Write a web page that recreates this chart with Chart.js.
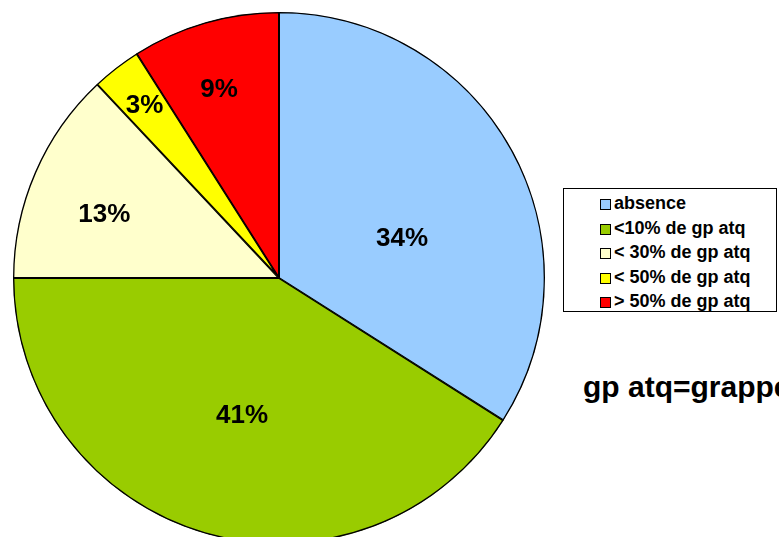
<!DOCTYPE html>
<html>
<head>
<meta charset="utf-8">
<script src="https://cdn.jsdelivr.net/npm/chart.js@4.4.0/dist/chart.umd.min.js"></script>
<style>
  html, body { margin: 0; padding: 0; background: #fff; overflow: hidden; width: 779px; height: 537px; }
  body { position: relative; font-family: "Liberation Sans", Arial, sans-serif; }
  #pieBox { position: absolute; left: 0; top: 0; width: 558px; height: 556px; }
  #legend {
    position: absolute; left: 563px; top: 188px; width: 214px; height: 124px;
    border: 1px solid #000; box-sizing: border-box; background: #fff;
  }
  #legend .item {
    position: absolute; left: 36px; height: 20px; line-height: 20px;
    font-weight: bold; font-size: 18px; white-space: nowrap; color: #000;
  }
  #legend .sw {
    display: inline-block; width: 9px; height: 9px; border: 1px solid #000;
    margin-right: 3px; vertical-align: -1px;
  }
  #note {
    position: absolute; left: 583px; top: 372px; font-weight: bold; font-size: 30px;
    line-height: 30px; white-space: nowrap; color: #000;
  }
</style>
</head>
<body>
<div id="pieBox"><canvas id="pie"></canvas></div>
<div id="legend"></div>
<div id="note">gp atq=grappes atteintes</div>
<script>
// categories and values (percent)
const labels = ["absence", "<10% de gp atq", "< 30% de gp atq", "< 50% de gp atq", "> 50% de gp atq"];
const values = [34, 41, 13, 3, 9];
const colors = ["#99CCFF", "#99CC00", "#FFFFCC", "#FFFF00", "#FF0000"];
// label placement: fraction of radius, and turn (degrees) away from the slice middle
const labelRad = [0.487, 0.533, 0.699, 0.825, 0.745];
const labelTurn = [10.6, -1.1, -3.3, 0, -1.4];

// draws the % labels on the slices
const pctLabels = {
  id: "pctLabels",
  afterDatasetsDraw(chart) {
    const ctx = chart.ctx;
    const meta = chart.getDatasetMeta(0);
    ctx.save();
    ctx.font = "bold 26px 'Liberation Sans', Arial, sans-serif";
    ctx.fillStyle = "#000";
    ctx.textAlign = "center";
    ctx.textBaseline = "middle";
    meta.data.forEach((arc, i) => {
      const p = arc.getProps(["x", "y", "startAngle", "endAngle", "outerRadius"], true);
      const mid = (p.startAngle + p.endAngle) / 2 + labelTurn[i] * Math.PI / 180;
      const r = p.outerRadius * labelRad[i];
      ctx.fillText(values[i] + "%", p.x + Math.cos(mid) * r, p.y + Math.sin(mid) * r + 1);
    });
    ctx.restore();
  }
};

const chart = new Chart(document.getElementById("pie"), {
  type: "pie",
  data: {
    labels: labels,
    datasets: [{
      data: values,
      backgroundColor: colors,
      borderColor: "#000",
      borderWidth: 1,
      borderAlign: "inner"
    }]
  },
  options: {
    responsive: true,
    maintainAspectRatio: false,
    animation: false,
    layout: { padding: { left: 13, right: 13, top: 12, bottom: 12 } },
    plugins: {
      legend: { display: false },
      tooltip: { enabled: false }
    }
  },
  plugins: [pctLabels]
});

// legend built from the chart's data
const legendEl = document.getElementById("legend");
chart.data.labels.forEach((lab, i) => {
  const row = document.createElement("div");
  row.className = "item";
  row.style.top = (4 + i * 24.5) + "px";
  const sw = document.createElement("span");
  sw.className = "sw";
  sw.style.background = chart.data.datasets[0].backgroundColor[i];
  row.appendChild(sw);
  row.appendChild(document.createTextNode(lab));
  legendEl.appendChild(row);
});
</script>
</body>
</html>
